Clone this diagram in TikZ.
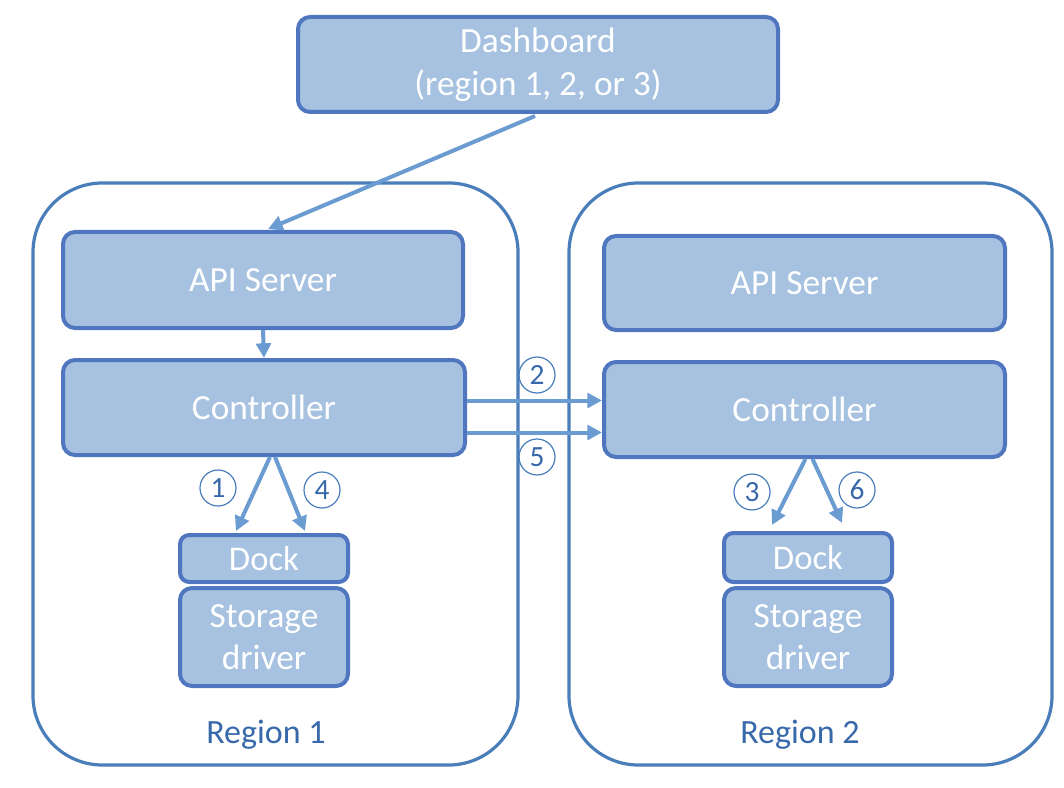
\documentclass[tikz,border=0pt]{standalone}
\usepackage{fontspec}
\setmainfont{Carlito}
\usetikzlibrary{arrows.meta,calc}
\definecolor{boxfill}{RGB}{166,194,224}
\definecolor{boxline}{RGB}{79,118,190}
\definecolor{frameline}{RGB}{74,126,187}
\definecolor{arrowc}{RGB}{106,155,209}
\definecolor{labelc}{RGB}{55,105,170}
\tikzset{
  box/.style={draw=boxline, fill=boxfill, line width=3pt, rounded corners=9pt, text=white, align=center, inner sep=0pt},
  frame/.style={draw=frameline, line width=2.4pt, rounded corners=52pt, inner sep=0pt},
  arr/.style={draw=arrowc, line width=3pt, -{Triangle[length=11pt,width=11pt]}},
  num/.style={circle, draw=frameline, line width=0.9pt, text=labelc, minimum size=27pt, inner sep=0pt, font=\fontsize{22}{22}\selectfont},
  reglabel/.style={text=labelc, font=\fontsize{25.5}{28}\selectfont}
}
\begin{document}
\begin{tikzpicture}[x=0.75pt,y=-0.75pt]
\useasboundingbox (0,0) rectangle (1064,788);
% frames
\node[frame, minimum width=363.75pt, minimum height=436.5pt] (regL) at (275.5,474) {};
\node[frame, minimum width=362.25pt, minimum height=436.5pt] (regR) at (810.5,474) {};
% dashboard
\node[box, minimum width=360pt, minimum height=71.25pt, font=\fontsize{26.5}{32}\selectfont] (dash) at (538,64.5) {Dashboard\\(region 1, 2, or 3)};
% left
\node[box, minimum width=300pt, minimum height=72pt, font=\fontsize{26.5}{30}\selectfont] (apiL) at (263,280) {API Server};
\node[box, minimum width=301.5pt, minimum height=71.25pt, font=\fontsize{26.5}{30}\selectfont] (ctrlL) at (264,407.5) {Controller};
\node[box, minimum width=126pt, minimum height=35.25pt, rounded corners=7pt, font=\fontsize{26}{30}\selectfont] (dockL) at (264,558.5) {Dock};
\node[box, minimum width=126pt, minimum height=73.5pt, font=\fontsize{26.5}{31}\selectfont] (storL) at (264,637) {Storage\\driver};
% right
\node[box, minimum width=300.75pt, minimum height=70.5pt, font=\fontsize{26.5}{30}\selectfont] (apiR) at (804.5,283) {API Server};
\node[box, minimum width=300.75pt, minimum height=71.25pt, font=\fontsize{26.5}{30}\selectfont] (ctrlR) at (804.5,409.5) {Controller};
\node[box, minimum width=126pt, minimum height=36.75pt, rounded corners=7pt, font=\fontsize{26}{30}\selectfont] (dockR) at (808,557.5) {Dock};
\node[box, minimum width=126pt, minimum height=73.5pt, font=\fontsize{26.5}{31}\selectfont] (storR) at (808,637) {Storage\\driver};
% region labels
\node[reglabel] (lblL) at (266,735) {Region 1};
\node[reglabel] (lblR) at (800,735) {Region 2};
% arrows
\draw[arr] ($(dash.south)+(-3,2)$) -- ($(apiL.north)+(5,-1)$);
\draw[arr] (apiL.south) -- (ctrlL.north);
\draw[arr] ($(ctrlL.east)+(0,-7)$) -- ($(ctrlR.west)+(0,-9)$);
\draw[arr] ($(ctrlL.east)+(0,25)$) -- ($(ctrlR.west)+(0,23)$);
\draw[arr] ($(ctrlL.south)+(6,0)$) -- ($(dockL.north)+(-28,-2)$);
\draw[arr] ($(ctrlL.south)+(11,0)$) -- ($(dockL.north)+(41,-2)$);
\draw[arr] ($(ctrlR.south)+(1,0)$) -- ($(dockR.north)+(-36,-6)$);
\draw[arr] ($(ctrlR.south)+(8,0)$) -- ($(dockR.north)+(34,-8)$);
% numbers
\node[num] (n1) at (218,488) {1};
\node[num] (n4) at (322,490) {4};
\node[num] (n2) at (537,375) {2};
\node[num] (n5) at (537,457) {5};
\node[num] (n3) at (752,492) {3};
\node[num] (n6) at (857,490) {6};
\end{tikzpicture}
\end{document}
